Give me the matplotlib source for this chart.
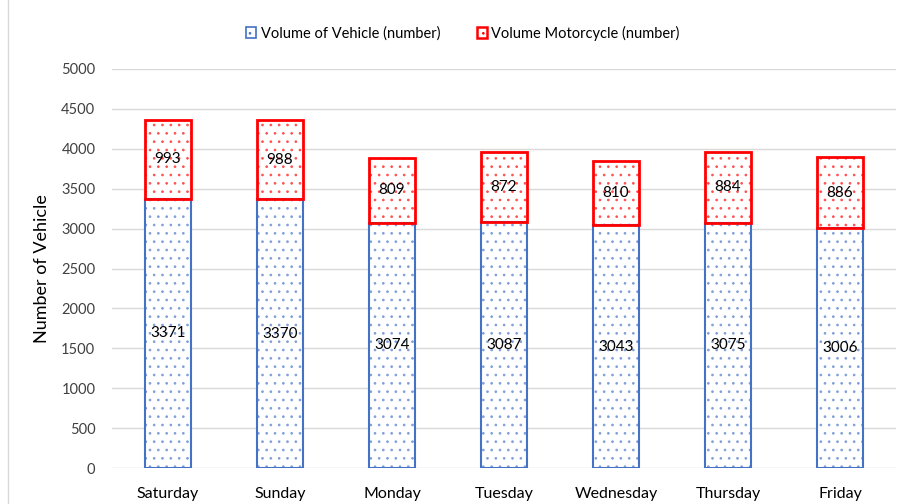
import matplotlib
matplotlib.use("Agg")
import matplotlib.pyplot as plt
from matplotlib.patches import Patch
from matplotlib.lines import Line2D
import numpy as np

days = ["Saturday", "Sunday", "Monday", "Tuesday", "Wednesday", "Thursday", "Friday"]
vehicles = [3371, 3370, 3074, 3087, 3043, 3075, 3006]
motorcycles = [993, 988, 809, 872, 810, 884, 886]
yticks = [0, 500, 1000, 1500, 2000, 2500, 3000, 3500, 4000, 4500, 5000]

plt.rcParams['font.family'] = ['Lato', 'DejaVu Sans']
plt.rcParams['hatch.linewidth'] = 0.7

fig = plt.figure(figsize=(9.01, 5.04), dpi=100)
ax = fig.add_axes([112/901, 1-468/504, (896-112)/901, (468-69)/504])

x = np.arange(len(days))
blue = '#4472C4'
red = '#FF0000'
blue_dot = '#7F9FD8'
red_dot = '#FF5050'
w = 0.41
# dotted fills
ax.bar(x, vehicles, w, color='white', edgecolor=blue_dot, hatch='..', linewidth=0, zorder=3)
ax.bar(x, motorcycles, w, bottom=vehicles, color='white', edgecolor=red_dot, hatch='..', linewidth=0, zorder=3)
# outlines
ax.bar(x, vehicles, w, color='none', edgecolor=blue, linewidth=1.5, zorder=3.5)
ax.bar(x, motorcycles, w, bottom=vehicles, color='none', edgecolor=red, linewidth=2, zorder=3.6)

for i in range(len(days)):
    ax.text(x[i], vehicles[i]/2, str(vehicles[i]), ha='center', va='center', fontsize=11, zorder=4)
    ax.text(x[i], vehicles[i] + motorcycles[i]/2, str(motorcycles[i]), ha='center', va='center', fontsize=11, zorder=4)

ax.set_xlim(-0.5, len(days)-0.5)
ax.set_ylim(0, 5000)
ax.set_yticks(yticks)
ax.set_yticklabels([str(t) for t in yticks], fontsize=10.5, color='#404040')
ax.set_xticks(x)
ax.set_xticklabels(days, fontsize=11.5)
ax.tick_params(axis='both', length=0)
ax.tick_params(axis='y', pad=12)
ax.tick_params(axis='x', pad=14)
ax.grid(axis='y', color='#D9D9D9', linewidth=1, zorder=0)
for s in ax.spines.values():
    s.set_visible(False)
ax.set_ylabel('Number of Vehicle', fontsize=13, labelpad=8)

handles = [Patch(facecolor='white', edgecolor=blue, hatch='..', linewidth=1.2),
           Patch(facecolor='white', edgecolor=red, hatch='..', linewidth=1.8)]
fig.legend(handles, ['Volume of Vehicle (number)', 'Volume Motorcycle (number)'],
           loc='center', bbox_to_anchor=(463/901, 1-33/504), ncol=2, frameon=False,
           fontsize=10.5, handlelength=0.7, handleheight=0.7, handletextpad=0.3, columnspacing=2.5)

fig.add_artist(Line2D([8/901, 8/901], [0, 1], transform=fig.transFigure, color='#D9D9D9', linewidth=1))

fig.savefig('out.png', dpi=100)
